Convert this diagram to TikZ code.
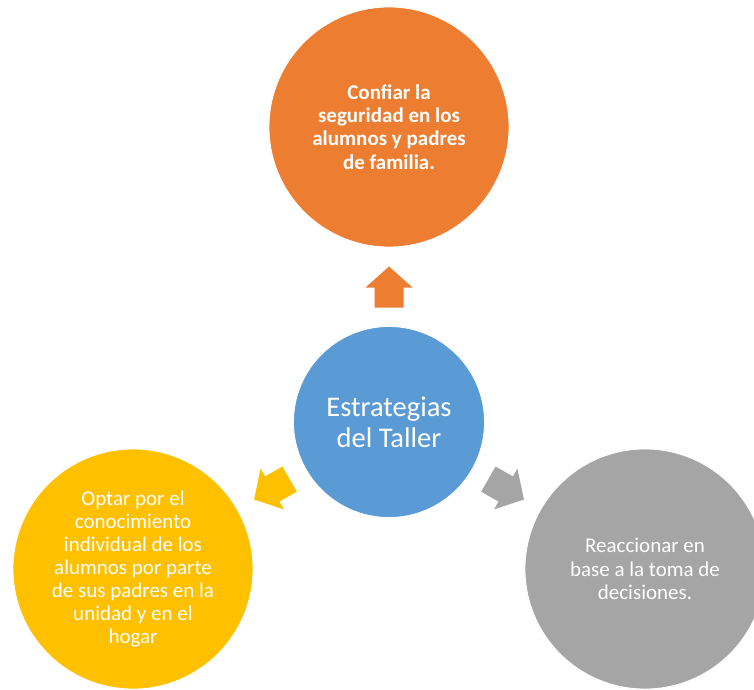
\documentclass[tikz,border=0pt]{standalone}
\usepackage{fontspec}
\setmainfont{Carlito}
\usetikzlibrary{calc}
\definecolor{cOrange}{HTML}{ED7D31}
\definecolor{cBlue}{HTML}{5B9BD5}
\definecolor{cGray}{HTML}{A5A5A5}
\definecolor{cGold}{HTML}{FFC000}
\tikzset{
  bubble/.style={circle, inner sep=0pt, draw=white, line width=0.8pt, text=white, align=center},
  outer/.style={bubble, minimum size=240pt, font=\fontsize{21}{23.3}\selectfont},
  blockarr/.pic={\fill[pic actions] (20.5,0) -- (-0.5,23.5) -- (-0.5,14.5) -- (-20.5,14.5)
     -- (-20.5,-14.5) -- (-0.5,-14.5) -- (-0.5,-23.5) -- cycle;}
}
\begin{document}
\begin{tikzpicture}[x=1pt,y=1pt]
\useasboundingbox (0,0) rectangle (754,-689);
\node[outer, fill=cOrange, font=\fontsize{21}{23.3}\selectfont\bfseries] (top) at (389,-127)
  {Confiar la\\seguridad en los\\alumnos y padres\\de familia.};
\node[outer, fill=cGold, font=\fontsize{21}{23}\selectfont] (left) at (133,-569)
  {Optar por el\\conocimiento\\individual de los\\alumnos por parte\\de sus padres en la\\unidad y en el\\hogar};
\node[outer, fill=cGray, font=\fontsize{21}{23.5}\selectfont] (right) at (645,-569)
  {Reaccionar en\\base a la toma de\\decisiones.};
\node[bubble, fill=cBlue, minimum size=191pt, font=\fontsize{28.5}{31}\selectfont] (center) at (389,-422)
  {Estrategias\\del Taller};
\pic[fill=cOrange, rotate=90] at ($(center.center)!0.4576!(top.center)$) {blockarr};
\pic[fill=cGold, rotate=209.87] at ($(center.center)!0.4576!(left.center)$) {blockarr};
\pic[fill=cGray, rotate=-29.87] at ($(center.center)!0.4576!(right.center)$) {blockarr};
\end{tikzpicture}
\end{document}
